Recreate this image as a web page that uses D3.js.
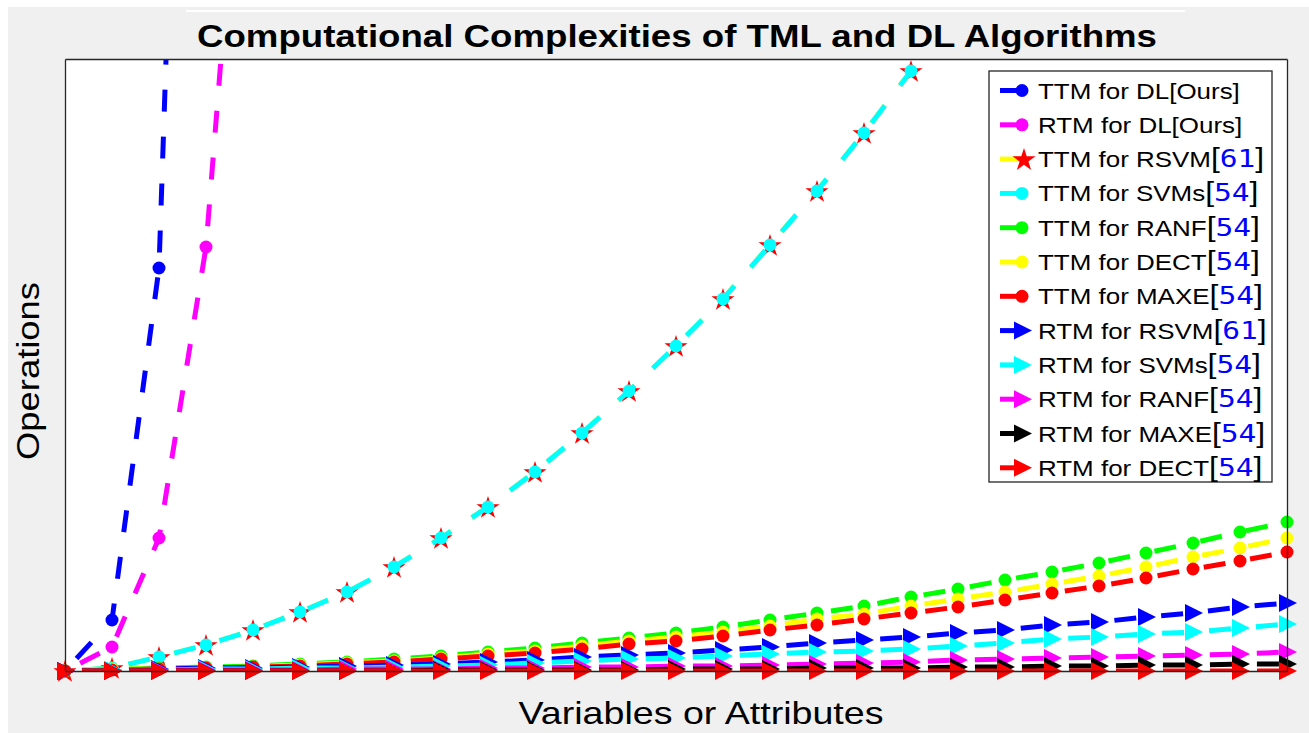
<!DOCTYPE html>
<html>
<head>
<meta charset="utf-8">
<script src="https://cdn.jsdelivr.net/npm/d3@7"></script>
<style>
  body { margin: 0; background: #ffffff; }
  svg { display: block; }
</style>
</head>
<body>
<svg id="chart" width="1309" height="733"></svg>
<script>
// ------------------DATA------------------
// variables (x positions)
var variables = [0, 1, 2, 3, 4, 5, 6, 7, 8, 9, 10, 11, 12, 13, 14, 15, 16, 17, 18, 19, 20, 21, 22, 23, 24, 25, 26];

// operations (arbitrary units, axis top = 612)
var ttmDL = [0, 51, 403, 1800];
var rtmDL = [0, 24, 133, 424, 1013];
var ttmRSVM = [0, 3, 14, 26, 41, 59, 79, 104, 133, 164, 199, 238, 280, 325, 372, 426, 480, 538, 600, 664, 730];
var ttmSVMs = [0, 3, 14, 26, 41, 59, 79, 104, 133, 164, 199, 238, 280, 325, 372, 426, 480, 538, 600, 664, 730];
var ttmRANF = [0, 2, 3, 4, 5, 7, 9, 12, 15, 19, 23, 28, 33, 38, 44, 51, 58, 65, 74, 82, 91, 99, 108, 118, 128, 139, 149];
var ttmDECT = [0, 2, 2, 3, 4, 6, 8, 10, 13, 17, 20, 25, 30, 34, 39, 45, 52, 57, 65, 72, 79, 87, 95, 104, 114, 123, 133];
var ttmMAXE = [0, 1, 2, 3, 4, 5, 7, 9, 12, 15, 18, 22, 27, 30, 35, 41, 46, 52, 58, 64, 71, 78, 85, 93, 102, 110, 119];
var rtmRSVM = [0, 1, 2, 3, 3, 4, 5, 6, 7, 9, 11, 14, 16, 18, 21, 24, 28, 31, 34, 38, 41, 46, 49, 54, 58, 64, 68];
var rtmSVMs = [0, 1, 1, 2, 2, 3, 3, 4, 5, 6, 8, 10, 12, 13, 15, 17, 19, 20, 22, 25, 28, 32, 34, 37, 39, 43, 47];
var rtmRANF = [0, 0, 1, 1, 1, 1, 2, 2, 2, 3, 3, 4, 4, 5, 5, 6, 7, 8, 9, 11, 12, 13, 14, 15, 16, 17, 19];
var rtmMAXE = [0, 0, 0, 0, 0, 0, 0, 0, 1, 1, 1, 1, 1, 2, 2, 2, 3, 3, 3, 4, 4, 5, 5, 6, 6, 7, 7];
var rtmDECT = [0, 0, 0, 0, 0, 0, 0, 0, 0, 0, 0, 0, 0, 0, 0, 0, 0, 0, 0, 0, 0, 0, 0, 0, 0, 0, 0];

// legend labels and their references
var labels = ["TTM for DL", "RTM for DL", "TTM for RSVM", "TTM for SVMs", "TTM for RANF", "TTM for DECT",
    "TTM for MAXE", "RTM for RSVM", "RTM for SVMs", "RTM for RANF", "RTM for MAXE", "RTM for DECT"];
var refs = ["Ours", "Ours", "61", "54", "54", "54", "54", "61", "54", "54", "54", "54"];

var yMax = 612;

// ------------------SERIES------------------
var series = [
    { values: ttmDL, line: "#0000ff", fill: "#0000ff", marker: "circle" },
    { values: rtmDL, line: "#ff00ff", fill: "#ff00ff", marker: "circle" },
    { values: ttmRSVM, line: "#ffff00", fill: "#ff0000", marker: "star" },
    { values: ttmSVMs, line: "#00ffff", fill: "#00ffff", marker: "circle" },
    { values: ttmRANF, line: "#00ff00", fill: "#00ff00", marker: "circle" },
    { values: ttmDECT, line: "#ffff00", fill: "#ffff00", marker: "circle" },
    { values: ttmMAXE, line: "#ff0000", fill: "#ff0000", marker: "circle" },
    { values: rtmRSVM, line: "#0000ff", fill: "#0000ff", marker: "arrow" },
    { values: rtmSVMs, line: "#00ffff", fill: "#00ffff", marker: "arrow" },
    { values: rtmRANF, line: "#ff00ff", fill: "#ff00ff", marker: "arrow" },
    { values: rtmMAXE, line: "#000000", fill: "#000000", marker: "arrow" },
    { values: rtmDECT, line: "#ff0000", fill: "#ff0000", marker: "arrow" }
];

// ------------------LAYOUT------------------
var svg = d3.select("#chart");
var plotLeft = 65, plotRight = 1287, plotTop = 59, plotBottom = 671;
var font = "'Liberation Sans', Arial, sans-serif";

var x = d3.scaleLinear().domain([0, 26]).range([plotLeft, plotRight]);
var y = d3.scaleLinear().domain([0, yMax]).range([plotBottom, plotTop]);

// figure background
svg.append("rect").attr("x", 8).attr("y", 7).attr("width", 1301).attr("height", 726).style("fill", "#f0f0f0");
svg.append("rect").attr("x", 186).attr("y", 10).attr("width", 999).attr("height", 2).style("fill", "#ffffff");
svg.append("rect").attr("x", plotLeft).attr("y", plotTop)
    .attr("width", plotRight - plotLeft).attr("height", plotBottom - plotTop)
    .style("fill", "#ffffff");

svg.append("clipPath").attr("id", "plotClip").append("rect")
    .attr("x", plotLeft).attr("y", plotTop)
    .attr("width", plotRight - plotLeft).attr("height", plotBottom - plotTop);

//funcio que dibuixa el marcador
function drawMarker(g, type, cx, cy, color) {
    if (type == "circle") {
        g.append("circle").attr("cx", cx).attr("cy", cy).attr("r", 6.5).style("fill", color);
    } else if (type == "star") {
        g.append("path").attr("d", d3.symbol().type(d3.symbolStar).size(165)())
            .attr("transform", `translate(${cx},${cy + 1})`).style("fill", color);
    } else {
        g.append("path").attr("d", "M-8,-9L10,0L-8,9Z")
            .attr("transform", `translate(${cx},${cy})`).style("fill", color);
    }
}

var line = d3.line().x((d, i) => x(variables[i])).y(d => y(d));

series.forEach(function (s) {
    let g = svg.append("g");
    g.append("path").datum(s.values)
        .attr("d", line)
        .attr("clip-path", "url(#plotClip)")
        .style("fill", "none")
        .style("stroke", s.line)
        .style("stroke-width", 5)
        .style("stroke-dasharray", "22,25")
        .style("stroke-dashoffset", 30);
    s.values.forEach(function (v, i) {
        if (v <= yMax) {
            drawMarker(g, s.marker, x(variables[i]), y(v), s.fill);
        }
    });
});

// axes box without ticks
var axisColor = "#262626";
[d3.axisBottom(x).tickValues([]).tickSizeOuter(0), d3.axisTop(x).tickValues([]).tickSizeOuter(0)]
    .forEach(function (ax, k) {
        svg.append("g").attr("transform", `translate(0,${k == 0 ? plotBottom : plotTop})`).call(ax)
            .select(".domain").style("stroke", axisColor).style("stroke-width", 1.3);
    });
[d3.axisLeft(y).tickValues([]).tickSizeOuter(0), d3.axisRight(y).tickValues([]).tickSizeOuter(0)]
    .forEach(function (ax, k) {
        svg.append("g").attr("transform", `translate(${k == 0 ? plotLeft : plotRight},0)`).call(ax)
            .select(".domain").style("stroke", axisColor).style("stroke-width", 1.3);
    });

// titles
svg.append("text").attr("x", 677).attr("y", 47).attr("text-anchor", "middle")
    .attr("textLength", 960).attr("lengthAdjust", "spacingAndGlyphs")
    .style("font-family", font).style("font-weight", "bold").style("font-size", "31px")
    .text("Computational Complexities of TML and DL Algorithms");
svg.append("text").attr("x", 701).attr("y", 724).attr("text-anchor", "middle")
    .attr("textLength", 365).attr("lengthAdjust", "spacingAndGlyphs")
    .style("font-family", font).style("font-size", "32px")
    .text("Variables or Attributes");
svg.append("text").attr("transform", "translate(39,371) rotate(-90)").attr("text-anchor", "middle")
    .attr("textLength", 178).attr("lengthAdjust", "spacingAndGlyphs")
    .style("font-family", font).style("font-size", "32px")
    .text("Operations");

// ------------------LEGEND------------------
var legend = svg.append("g");
legend.append("rect").attr("x", 989).attr("y", 71).attr("width", 283).attr("height", 411)
    .style("fill", "#ffffff").style("stroke", axisColor).style("stroke-width", 1.3);

series.forEach(function (s, i) {
    let cy = 90.5 + i * 34.3;
    legend.append("line").attr("x1", 1000).attr("x2", 1022).attr("y1", cy).attr("y2", cy)
        .style("stroke", s.line).style("stroke-width", 5);
    drawMarker(legend, s.marker, s.marker == "star" ? 1024 : 1022, cy, s.fill);

    let t = legend.append("g").attr("transform", `translate(1038,${cy + 8}) scale(1.18,1)`)
        .append("text").style("font-family", font).style("font-size", "22px").style("fill", "#000000");
    t.append("tspan").text(labels[i]);
    if (refs[i] == "Ours") {
        t.append("tspan").text("[Ours]");
    } else {
        t.append("tspan").style("font-size", "27px").text("[");
        t.append("tspan").style("font-size", "25px").style("font-family", "'DejaVu Sans Mono', monospace")
            .style("fill", "#0000ff").text(refs[i]);
        t.append("tspan").style("font-size", "27px").text("]");
    }
});
</script>
</body>
</html>
